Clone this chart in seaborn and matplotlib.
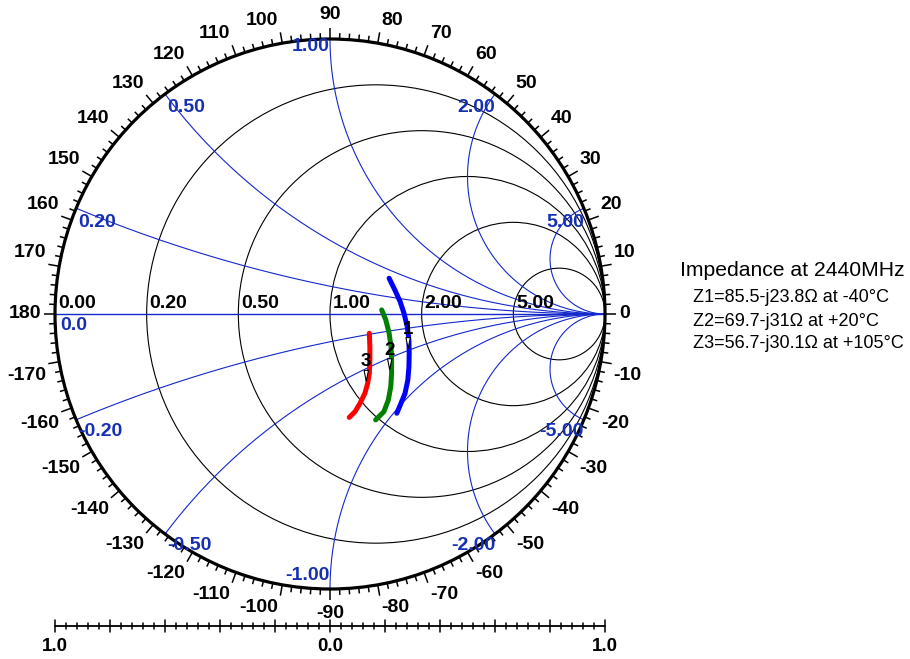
import numpy as np
import pandas as pd
import matplotlib
matplotlib.use("Agg")
import matplotlib.pyplot as plt
import seaborn as sns
from matplotlib.patches import Circle, Polygon

# ---- data -----------------------------------------------------------------
Z0 = 50.0
FREQ_MHZ = 2440
marker_ids = ["1", "2", "3"]
z_real = [85.5, 69.7, 56.7]          # ohms
z_imag = [-23.8, -31.0, -30.1]       # ohms
temps = ["-40", "+20", "+105"]       # deg C

# swept reflection-coefficient traces (real / imaginary part of Gamma)
blue_re = [0.215, 0.236, 0.255, 0.269, 0.281, 0.287, 0.288, 0.287, 0.283, 0.273, 0.258, 0.243]
blue_im = [0.130, 0.087, 0.045, 0.003, -0.046, -0.095, -0.143, -0.192, -0.240, -0.288, -0.325, -0.361]
green_re = [0.188, 0.203, 0.215, 0.222, 0.224, 0.224, 0.221, 0.212, 0.196, 0.166]
green_im = [0.015, -0.022, -0.070, -0.119, -0.167, -0.216, -0.264, -0.313, -0.355, -0.385]
red_re = [0.143, 0.145, 0.145, 0.143, 0.137, 0.127, 0.109, 0.091, 0.070]
red_im = [-0.070, -0.119, -0.167, -0.216, -0.252, -0.288, -0.325, -0.355, -0.376]
trace_colors = {"1": "#0000ff", "2": "#008000", "3": "#ff0000"}

# Smith chart grid
r_circles = [0.2, 0.5, 1.0, 2.0, 5.0]
x_arcs = [0.2, 0.5, 1.0, 2.0, 5.0]
angle_labels = list(range(-170, 181, 10))
scale_pos = [-1.0, 0.0, 1.0]
scale_text = ["1.0", "0.0", "1.0"]

# ---- figure ---------------------------------------------------------------
sns.set_theme(style="white")
plt.rcParams["font.family"] = ["Liberation Sans", "DejaVu Sans"]

W, H = 910, 659
CX, CY, RP = 330.0, 314.0, 275.0      # chart centre and radius in pixels
S = 1.0 / RP                          # one pixel in chart units
FS = 14

fig = plt.figure(figsize=(W / 100, H / 100), dpi=100)
ax = fig.add_axes([0, 0, 1, 1])
ax.set_xlim(-CX / RP, (W - CX) / RP)
ax.set_ylim((CY - H) / RP, CY / RP)
ax.axis("off")


def px(x, y):
    """pixel position -> chart units"""
    return (x - CX) / RP, (CY - y) / RP


GRID_BLUE = "#1428cc"
LABEL_BLUE = "#1530b4"

# resistance circles
for r in r_circles:
    ax.add_patch(Circle((r / (1 + r), 0), 1 / (1 + r), fill=False,
                        lw=0.8, ec="black", zorder=2))

# reactance arcs
t = np.linspace(0, np.pi / 2 - 1e-4, 600)
rr = np.concatenate([[0.0], np.tan(t), [1e6]])
for xv in x_arcs:
    for sgn in (1, -1):
        z = rr + 1j * sgn * xv
        g = (z - 1) / (z + 1)
        ax.plot(g.real, g.imag, color=GRID_BLUE, lw=0.8, zorder=2)
ax.plot([-1, 1], [0, 0], color=GRID_BLUE, lw=1.0, zorder=2)

# outer circle with angle scale
ax.add_patch(Circle((0, 0), 1, fill=False, lw=2.3, ec="black", zorder=4))
for d in range(-178, 181, 2):
    th = np.deg2rad(d)
    L = 11 if d % 10 == 0 else 6
    ax.plot([np.cos(th), (1 + L * S) * np.cos(th)],
            [np.sin(th), (1 + L * S) * np.sin(th)],
            color="black", lw=1.1, zorder=4, solid_capstyle="butt")

for a in angle_labels:
    th = np.deg2rad(a)
    end = 1 + 11 * S
    x0, y0 = end * np.cos(th), end * np.sin(th)
    if a == 0:
        ha, va, dx, dy = "left", "center", 3, 0
    elif a == 180:
        ha, va, dx, dy = "right", "center", -3, 0
    elif a == 90:
        ha, va, dx, dy = "center", "bottom", 0, 5
    elif a == -90:
        ha, va, dx, dy = "center", "top", 0, -5
    elif 0 < a < 90:
        ha, va, dx, dy = "left", "bottom", 2, 3
    elif a > 90:
        ha, va, dx, dy = "right", "bottom", -2, 3
    elif -90 < a < 0:
        ha, va, dx, dy = "left", "top", 2, -3
    else:
        ha, va, dx, dy = "right", "top", -2, -3
    ax.text(x0 + dx * S, y0 + dy * S, str(a), ha=ha, va=va,
            fontsize=FS, fontweight="bold", color="black", zorder=6)

# resistance labels
for r in [0.0] + r_circles:
    left = (r - 1) / (r + 1)
    ax.text(left + 3 * S, 2 * S, f"{r:.2f}", ha="left", va="bottom",
            fontsize=FS, fontweight="bold", color="black", zorder=6)
ax.text(-1 + 5 * S, -3 * S, "0.0", ha="left", va="top",
        fontsize=FS, fontweight="bold", color=LABEL_BLUE, zorder=6)

# reactance labels
for xv in x_arcs:
    for sgn in (1, -1):
        x = sgn * xv
        gx, gy = (x * x - 1) / (x * x + 1), 2 * x / (x * x + 1)
        ha = "left" if abs(x) < 1 else "right"
        dx = 2 if ha == "left" else 0
        if x == 1:
            va, dy = "top", 1
        elif x == -1:
            va, dy = "bottom", 5
        elif x > 0:
            va, dy = "top", -5.5
        else:
            va, dy = "top", -3
        ax.text(gx + dx * S, gy + dy * S, f"{x:.2f}", ha=ha, va=va,
                fontsize=FS, fontweight="bold", color=LABEL_BLUE, zorder=6)

# swept traces
traces = pd.concat([
    pd.DataFrame({"re": blue_re, "im": blue_im, "trace": "1"}),
    pd.DataFrame({"re": green_re, "im": green_im, "trace": "2"}),
    pd.DataFrame({"re": red_re, "im": red_im, "trace": "3"}),
], ignore_index=True)
sns.lineplot(data=traces, x="re", y="im", hue="trace", palette=trace_colors,
             sort=False, estimator=None, lw=3.6, legend=False, ax=ax,
             solid_capstyle="round", zorder=5)
ax.set_xlim(-CX / RP, (W - CX) / RP)
ax.set_ylim((CY - H) / RP, CY / RP)

# impedance markers
for mid, R, X in zip(marker_ids, z_real, z_imag):
    z = complex(R, X) / Z0
    g = (z - 1) / (z + 1)
    tri = Polygon([[g.real, g.imag],
                   [g.real - 2.2 * S, g.imag + 11 * S],
                   [g.real + 2.2 * S, g.imag + 11 * S]],
                  closed=True, fc="white", ec="black", lw=0.8, zorder=7)
    ax.add_patch(tri)
    ax.text(g.real, g.imag + 11 * S, mid, ha="center", va="bottom",
            fontsize=13.5, fontweight="bold", color="black", zorder=8)

# bottom linear scale
yb = px(0, 626)[1]
ax.plot([-1, 1], [yb, yb], color="black", lw=1.3, zorder=4)
for i in range(-25, 26):
    v = i * 0.04
    h = 6 if i % 5 == 0 else 3
    ax.plot([v, v], [yb - h * S, yb + h * S], color="black", lw=1.1, zorder=4)
for p, s in zip(scale_pos, scale_text):
    ax.text(p, yb - 12 * S, s, ha="center", va="top",
            fontsize=13.5, fontweight="bold", color="black")

# impedance summary
ax.text(*px(680, 270), f"Impedance at {FREQ_MHZ}MHz", ha="left", va="center",
        fontsize=15.2, color="black")
for k, (mid, R, X, T) in enumerate(zip(marker_ids, z_real, z_imag, temps)):
    sign = "-" if X < 0 else "+"
    ax.text(*px(693, 298 + 23 * k),
            f"Z{mid}={R:g}{sign}j{abs(X):g}\u03a9 at {T}\u00b0C",
            ha="left", va="center", fontsize=13, color="black")

fig.savefig("out.png", dpi=100)
